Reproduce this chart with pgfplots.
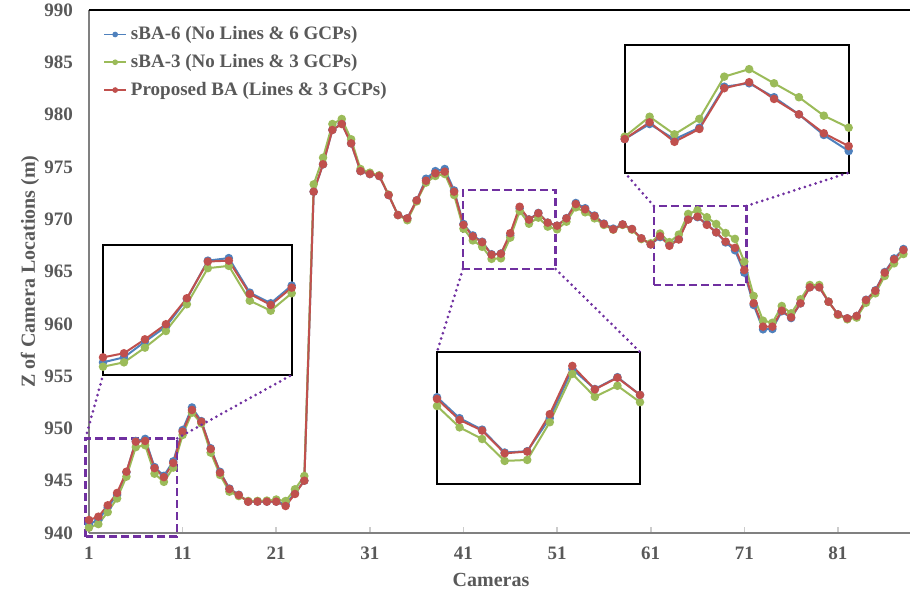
\documentclass[border=0pt]{standalone}
\usepackage{fontspec}
\setmainfont{Liberation Serif}
\usepackage{pgfplots}
\pgfplotsset{compat=1.18}
\usepackage{pgfplotstable}
\definecolor{sbasix}{HTML}{4F81BD}
\definecolor{sbathree}{HTML}{9BBB59}
\definecolor{propba}{HTML}{C0504D}
\definecolor{txtgray}{HTML}{595959}
\definecolor{boxpurple}{HTML}{7030A0}

\pgfplotstableread{
cam blue green red
1 940.85 940.51 941.24
2 941.24 940.85 941.56
3 942.47 942.00 942.65
4 943.64 943.30 943.83
5 945.80 945.39 945.86
6 948.80 948.21 948.73
7 949.00 948.39 948.80
8 946.30 945.67 946.20
9 945.47 944.89 945.34
10 946.85 946.25 946.69
11 949.85 949.37 949.69
12 952.00 951.50 951.76
13 950.70 950.48 950.64
14 948.10 947.68 948.03
15 945.85 945.55 945.77
16 944.25 943.95 944.20
17 943.65 943.53 943.63
18 943.00 943.06 942.99
19 943.00 943.07 943.00
20 943.00 943.10 943.00
21 943.00 943.20 943.00
22 942.75 943.06 942.58
23 943.80 944.18 943.73
24 945.00 945.45 945.00
25 972.63 973.33 972.63
26 975.25 975.88 975.25
27 978.55 979.10 978.53
28 979.15 979.58 979.10
29 977.25 977.64 977.25
30 974.60 974.80 974.60
31 974.32 974.45 974.32
32 974.13 974.20 974.13
33 972.31 972.35 972.31
34 970.40 970.40 970.40
35 970.08 969.90 970.08
36 971.80 971.70 971.80
37 973.87 973.50 973.68
38 974.60 974.13 974.39
39 974.80 974.32 974.55
40 972.75 972.31 972.63
41 969.55 969.09 969.46
42 968.45 967.97 968.36
43 967.85 967.36 967.80
44 966.65 966.21 966.61
45 966.72 966.26 966.70
46 968.45 968.24 968.66
47 971.03 970.77 971.19
48 969.98 969.57 969.96
49 970.60 970.15 970.57
50 969.67 969.29 969.67
51 969.38 969.03 969.38
52 970.10 969.76 970.08
53 971.55 971.13 971.45
54 971.05 970.66 970.95
55 970.35 970.08 970.30
56 969.58 969.45 969.54
57 969.10 969.00 969.03
58 969.50 969.45 969.50
59 969.06 969.00 969.06
60 968.17 968.10 968.17
61 967.59 967.70 967.59
62 968.29 968.63 968.37
63 967.58 967.81 967.46
64 968.12 968.53 968.06
65 970.03 970.50 969.96
66 970.19 970.85 970.24
67 969.54 970.19 969.46
68 968.74 969.54 968.74
69 967.78 968.68 967.86
70 967.03 968.12 967.26
71 964.89 965.94 965.14
72 961.80 962.66 961.96
73 959.47 960.30 959.73
74 959.50 960.10 959.73
75 961.20 961.70 961.25
76 960.55 961.00 960.62
77 961.95 962.34 961.96
78 963.50 963.71 963.49
79 963.50 963.71 963.49
80 962.11 962.11 962.11
81 960.90 960.85 960.90
82 960.52 960.43 960.52
83 960.75 960.59 960.75
84 962.30 962.01 962.27
85 963.20 962.91 963.16
86 964.95 964.57 964.89
87 966.25 965.78 966.16
88 967.15 966.67 967.05
}\datatab

\pgfplotsset{
  ser/.style={line width=1pt, mark=*, mark size=1.6pt, mark options={solid}},
  inset/.style={scale only axis, ticks=none, axis line style={black, line width=1pt},
    axis background/.style={fill=white}, anchor=south west},
}

\begin{document}
\begin{tikzpicture}
\path[use as bounding box] (-44.5pt,-31pt) rectangle (410.5pt,266.5pt);
\begin{axis}[
  name=main, at={(0pt,0pt)}, anchor=south west,
  width=410.5pt, height=261.5pt, scale only axis,
  xmin=1, xmax=88.7, ymin=940, ymax=990,
  xtick={1,11,...,81}, ytick={940,945,...,990},
  axis lines*=left,
  axis line style={draw=gray, line width=1pt},
  tick align=inside, major tick length=3pt,
  xtick style={draw=gray!40, line width=0.8pt},
  ytick style={draw=none},
  ticklabel style={font=\bfseries\fontsize{9.5}{11}\selectfont, text=txtgray},
  /pgf/number format/assume math mode=true,
  xticklabel style={yshift=-3.5pt},
  yticklabel style={xshift=-4.5pt},
  clip=false,
  legend style={at={(rel axis cs:0,1)}, anchor=north west, xshift=6pt, yshift=-5pt,
    draw=none, fill=none, font=\bfseries\fontsize{9.5}{11}\selectfont, text=txtgray,
    row sep=1.8pt, inner sep=1pt},
  legend cell align=left,
  legend image code/.code={\draw[line width=0.8pt, mark size=1pt, mark repeat=2, mark phase=2] plot coordinates {(0pt,0pt)(5.5pt,0pt)(11pt,0pt)};},
]
\addplot[ser, sbasix] table[x=cam, y=blue]{\datatab};
\addlegendentry{sBA-6 (No Lines \& 6 GCPs)}
\addplot[ser, sbathree] table[x=cam, y=green]{\datatab};
\addlegendentry{sBA-3 (No Lines \& 3 GCPs)}
\addplot[ser, propba] table[x=cam, y=red]{\datatab};
\addlegendentry{Proposed BA (Lines \& 3 GCPs)}
\draw[black, line width=0.8pt] (rel axis cs:0,1) -- (rel axis cs:1,1);
\draw[boxpurple, line width=1.3pt, dash pattern=on 4pt off 2pt] (axis cs:0.63,939.65) rectangle (axis cs:10.42,949.05);
\draw[boxpurple, line width=1.3pt, dash pattern=on 4pt off 2pt] (axis cs:40.94,965.24) rectangle (axis cs:50.84,972.79);
\draw[boxpurple, line width=1.3pt, dash pattern=on 4pt off 2pt] (axis cs:61.34,963.71) rectangle (axis cs:71.21,971.26);
\coordinate (b1tl) at (axis cs:0.63,949.05);
\coordinate (b1tr) at (axis cs:10.42,949.05);
\coordinate (b2bl) at (axis cs:40.94,965.24);
\coordinate (b2br) at (axis cs:50.84,965.24);
\coordinate (b3tl) at (axis cs:61.34,971.26);
\coordinate (b3tr) at (axis cs:71.21,971.26);
\end{axis}

\node[rotate=90, font=\bfseries\fontsize{10}{12}\selectfont, text=txtgray] at ([xshift=-29.5pt]main.west) {Z of Camera Locations (m)};
\node[font=\bfseries\fontsize{10}{12}\selectfont, text=txtgray] at ([xshift=-4.25pt, yshift=-23.5pt]main.south) {Cameras};

\begin{axis}[inset, name=ins1, at={(7pt,79pt)}, width=94.35pt, height=64.85pt,
  xmin=1, xmax=10, ymin=939.86, ymax=950]
\addplot[ser, sbasix, restrict x to domain=1:10] table[x=cam, y=blue]{\datatab};
\addplot[ser, sbathree, restrict x to domain=1:10] table[x=cam, y=green]{\datatab};
\addplot[ser, propba, restrict x to domain=1:10] table[x=cam, y=red]{\datatab};
\end{axis}

\begin{axis}[inset, name=ins2, at={(174pt,24.5pt)}, width=101.5pt, height=66pt,
  xmin=41, xmax=50, ymin=965.0, ymax=971.92]
\addplot[ser, sbasix, restrict x to domain=41:50] table[x=cam, y=blue]{\datatab};
\addplot[ser, sbathree, restrict x to domain=41:50] table[x=cam, y=green]{\datatab};
\addplot[ser, propba, restrict x to domain=41:50] table[x=cam, y=red]{\datatab};
\end{axis}

\begin{axis}[inset, name=ins3, at={(267.85pt,180.15pt)}, width=112pt, height=64pt,
  xmin=61, xmax=70, ymin=966.02, ymax=971.99]
\addplot[ser, sbasix, restrict x to domain=61:70] table[x=cam, y=blue]{\datatab};
\addplot[ser, sbathree, restrict x to domain=61:70] table[x=cam, y=green]{\datatab};
\addplot[ser, propba, restrict x to domain=61:70] table[x=cam, y=red]{\datatab};
\end{axis}

\begin{scope}[boxpurple, line width=1.5pt, dash pattern=on 0pt off 2.8pt, line cap=round]
\draw (b1tl) -- (ins1.south west);
\draw (b1tr) -- (ins1.south east);
\draw (b2bl) -- (ins2.north west);
\draw (b2br) -- (ins2.north east);
\draw (b3tl) -- (ins3.south west);
\draw (b3tr) -- (ins3.south east);
\end{scope}
\end{tikzpicture}
\end{document}
